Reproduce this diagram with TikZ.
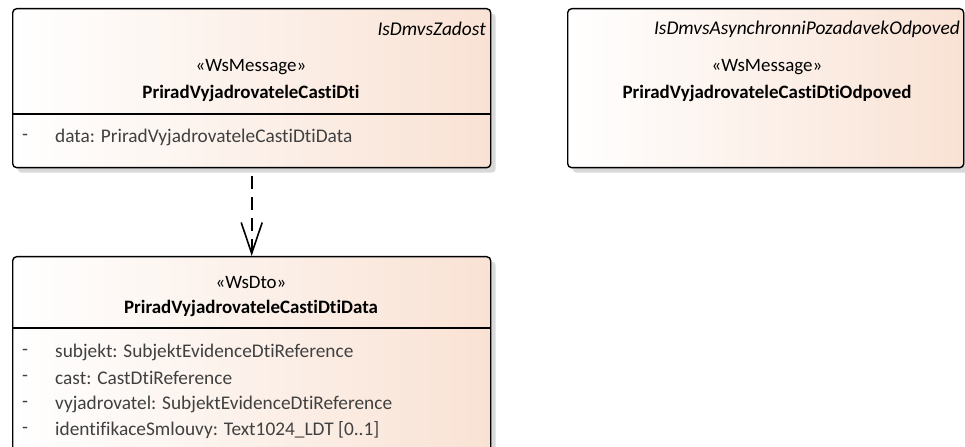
\documentclass[tikz,border=0pt]{standalone}
\usepackage{fontspec}
\setmainfont{Carlito}[Ligatures=NoCommon]
\usetikzlibrary{arrows.meta,shadows}
\definecolor{peach}{HTML}{F9E2D4}
\definecolor{attrgrey}{HTML}{404040}
\tikzset{
  umlbox/.style={draw=black,line width=1.4bp,rounded corners=4bp,left color=white,right color=peach,
    drop shadow={shadow xshift=5bp,shadow yshift=-5bp,fill=black!15,opacity=1}},
  stereo/.style={font=\fontsize{19}{22}\selectfont},
  classname/.style={font=\fontsize{19}{22}\selectfont\bfseries},
  pkgtag/.style={font=\fontsize{19.5}{22}\selectfont\itshape,anchor=east},
  attr/.style={font=\fontsize{19.4}{22}\selectfont,text=attrgrey,anchor=west},
  depend/.style={line width=1.6bp,dash pattern=on 13bp off 8bp,dash phase=-8bp,-{Straight Barb[length=31bp,width=21bp,line width=1.6bp]}}
}
\begin{document}
\begin{tikzpicture}[x=1bp,y=1bp,inner sep=0pt]
\useasboundingbox (0,0) rectangle (965,447);
% request message
\node[umlbox,anchor=north west,minimum width=478bp,minimum height=159bp] (msg) at (12,439) {};
\draw[line width=1.4bp] (12,333) -- (490,333);
\node[pkgtag] (msgtag) at (486,418) {IsDmvsZadost};
\node[stereo] (msgst) at (251,380) {«WsMessage»};
\node[classname] (msgname) at (251,354) {PriradVyjadrovateleCastiDti};
\node[attr,text=attrgrey] (msgdash) at (22,310) {-};
\node[attr] (msgdata) at (55,310) {data: PriradVyjadrovateleCastiDtiData};
% response message
\node[umlbox,anchor=north west,minimum width=396bp,minimum height=159bp] (resp) at (567,439) {};
\node[pkgtag] (resptag) at (960,418) {IsDmvsAsynchronniPozadavekOdpoved};
\node[stereo] (respst) at (767,380) {«WsMessage»};
\node[classname] (respname) at (767,354) {PriradVyjadrovateleCastiDtiOdpoved};
% data type
\node[umlbox,anchor=north west,minimum width=478bp,minimum height=210bp] (dto) at (12,191) {};
\draw[line width=1.4bp] (12,119) -- (490,119);
\node[stereo] (dtost) at (251,164) {«WsDto»};
\node[classname] (dtoname) at (251,139) {PriradVyjadrovateleCastiDtiData};
\node[attr] (d1) at (22,95) {-};
\node[attr] (a1) at (55,95) {subjekt: SubjektEvidenceDtiReference};
\node[attr] (d2) at (22,69) {-};
\node[attr] (a2) at (55,69) {cast: CastDtiReference};
\node[attr] (d3) at (22,43) {-};
\node[attr] (a3) at (55,43) {vyjadrovatel: SubjektEvidenceDtiReference};
\node[attr] (d4) at (22,17) {-};
\node[attr] (a4) at (55,17) {identifikaceSmlouvy: Text1024\_LDT [0..1]};
\draw[depend] (msg.south) -- (dto.north);
\end{tikzpicture}
\end{document}
